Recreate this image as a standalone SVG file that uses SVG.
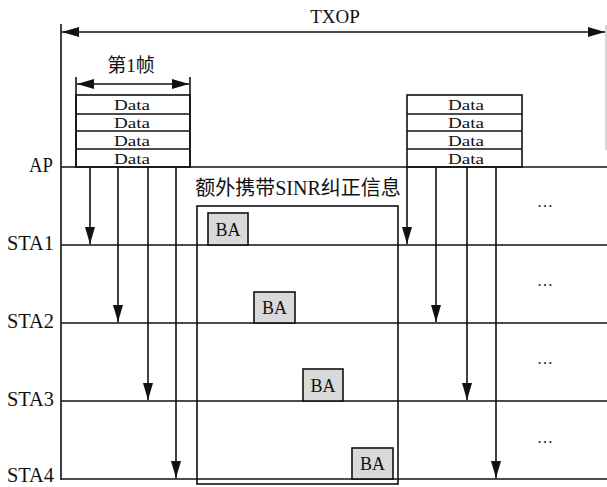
<svg xmlns="http://www.w3.org/2000/svg" width="607" height="487" viewBox="0 0 607 487">
<style>
.ln{stroke:#111;stroke-width:1.6;fill:none}
.t{font-family:'Liberation Serif','DejaVu Serif',serif;fill:#111}
.cjk{font-family:'Liberation Serif','Noto Sans CJK SC',serif;fill:#111}
.data{font-size:15.5px;text-anchor:middle}
.lbl{font-size:20px;text-anchor:end}
.ba rect{fill:#d9d9d9;stroke:#111;stroke-width:1.6}
.ba text{font-size:18px;text-anchor:middle}
.dots{font-size:16px;text-anchor:middle}
</style>
<defs>
<marker id="ah" markerUnits="userSpaceOnUse" markerWidth="17" markerHeight="10" refX="17" refY="5" orient="auto-start-reverse" viewBox="0 0 17 10">
<path d="M0,0 L17,5 L0,10 z" fill="#111"/>
</marker>
</defs>
<rect width="607" height="487" fill="#fff"/>

<g id="txop">
<line class="ln" x1="61" y1="24" x2="61" y2="480"/>
<line x1="606" y1="25" x2="606" y2="150" stroke="#aaa" stroke-width="1"/>
<line class="ln" x1="62" y1="32" x2="605" y2="32" marker-start="url(#ah)" marker-end="url(#ah)"/>
<text class="t" x="335" y="23" font-size="19" text-anchor="middle">TXOP</text>
</g>

<g id="frame1-label">
<line class="ln" x1="76" y1="77" x2="76" y2="167"/>
<line class="ln" x1="190" y1="77" x2="190" y2="167"/>
<line class="ln" x1="77" y1="84" x2="189" y2="84" marker-start="url(#ah)" marker-end="url(#ah)"/>
<text class="cjk" x="131" y="72" font-size="19" text-anchor="middle">第1帧</text>
</g>

<g id="data-left">
<rect class="ln" x="76" y="95" width="114" height="72"/>
<line class="ln" x1="76" y1="114" x2="190" y2="114"/>
<line class="ln" x1="76" y1="131" x2="190" y2="131"/>
<line class="ln" x1="76" y1="149" x2="190" y2="149"/>
<text class="t data" x="132" y="110" textLength="36" lengthAdjust="spacingAndGlyphs">Data</text>
<text class="t data" x="132" y="128" textLength="36" lengthAdjust="spacingAndGlyphs">Data</text>
<text class="t data" x="132" y="146" textLength="36" lengthAdjust="spacingAndGlyphs">Data</text>
<text class="t data" x="132" y="164" textLength="36" lengthAdjust="spacingAndGlyphs">Data</text>
</g>

<g id="data-right">
<rect class="ln" x="407" y="95" width="115" height="72"/>
<line class="ln" x1="407" y1="114" x2="522" y2="114"/>
<line class="ln" x1="407" y1="131" x2="522" y2="131"/>
<line class="ln" x1="407" y1="149" x2="522" y2="149"/>
<text class="t data" x="466" y="110" textLength="36" lengthAdjust="spacingAndGlyphs">Data</text>
<text class="t data" x="466" y="128" textLength="36" lengthAdjust="spacingAndGlyphs">Data</text>
<text class="t data" x="466" y="146" textLength="36" lengthAdjust="spacingAndGlyphs">Data</text>
<text class="t data" x="466" y="164" textLength="36" lengthAdjust="spacingAndGlyphs">Data</text>
</g>

<g id="timelines">
<line class="ln" x1="61" y1="167" x2="607" y2="167"/>
<line class="ln" x1="61" y1="245" x2="607" y2="245"/>
<line class="ln" x1="61" y1="323" x2="607" y2="323"/>
<line class="ln" x1="61" y1="401" x2="607" y2="401"/>
<line class="ln" x1="61" y1="479" x2="607" y2="479"/>
<text class="t lbl" x="53" y="172" textLength="24" lengthAdjust="spacingAndGlyphs">AP</text>
<text class="t lbl" x="54" y="250" textLength="47" lengthAdjust="spacingAndGlyphs">STA1</text>
<text class="t lbl" x="54" y="328" textLength="47" lengthAdjust="spacingAndGlyphs">STA2</text>
<text class="t lbl" x="54" y="406" textLength="47" lengthAdjust="spacingAndGlyphs">STA3</text>
<text class="t lbl" x="54" y="482" font-size="19" textLength="47" lengthAdjust="spacingAndGlyphs">STA4</text>
</g>

<g id="connectors">
<line class="ln" x1="90" y1="167" x2="90" y2="244" marker-end="url(#ah)"/>
<line class="ln" x1="118" y1="167" x2="118" y2="322" marker-end="url(#ah)"/>
<line class="ln" x1="148" y1="167" x2="148" y2="400" marker-end="url(#ah)"/>
<line class="ln" x1="176" y1="167" x2="176" y2="478" marker-end="url(#ah)"/>
<line class="ln" x1="407" y1="167" x2="407" y2="244" marker-end="url(#ah)"/>
<line class="ln" x1="436" y1="167" x2="436" y2="322" marker-end="url(#ah)"/>
<line class="ln" x1="467" y1="167" x2="467" y2="400" marker-end="url(#ah)"/>
<line class="ln" x1="496" y1="167" x2="496" y2="478" marker-end="url(#ah)"/>
</g>

<g id="sinr-box">
<rect class="ln" x="197" y="206" width="201" height="278"/>
<text class="cjk" x="298" y="195" font-size="20" text-anchor="middle">额外携带SINR纠正信息</text>
</g>

<g id="ba1" class="ba"><rect x="208" y="213" width="40" height="32"/><text class="t" x="228" y="236">BA</text></g>
<g id="ba2" class="ba"><rect x="254" y="292" width="41" height="31"/><text class="t" x="274.5" y="314">BA</text></g>
<g id="ba3" class="ba"><rect x="303" y="369" width="40" height="32"/><text class="t" x="323" y="392">BA</text></g>
<g id="ba4" class="ba"><rect x="352" y="448" width="41" height="31"/><text class="t" x="372.5" y="470">BA</text></g>

<g id="dots">
<text class="t dots" x="545" y="207">…</text>
<text class="t dots" x="545" y="286">…</text>
<text class="t dots" x="545" y="364">…</text>
<text class="t dots" x="545" y="443">…</text>
</g>
</svg>
